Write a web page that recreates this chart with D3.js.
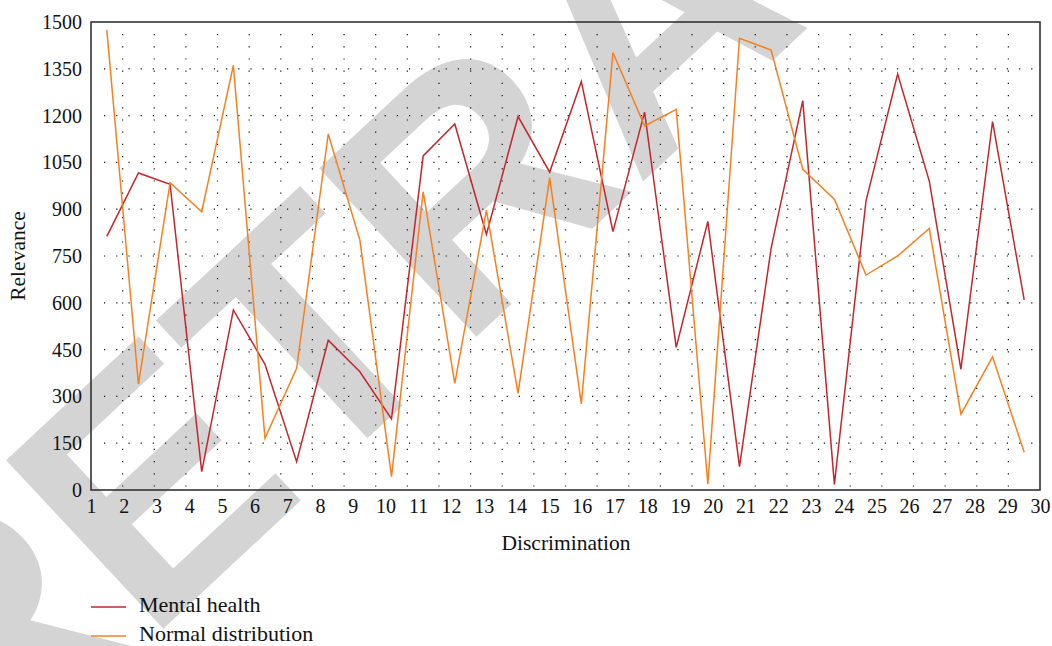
<!DOCTYPE html>
<html>
<head>
<meta charset="utf-8">
<script src="https://cdn.jsdelivr.net/npm/d3@7"></script>
<style>
  body { margin: 0; background: #fff; }
  svg { display: block; }
  .serif { font-family: "Liberation Serif", "DejaVu Serif", serif; fill: #111; }
</style>
</head>
<body>
<svg id="chart" width="1052" height="646"></svg>
<script>
// values
const samples = d3.range(1, 31);
const mentalHealth = [813, 1016, 980, 59, 577, 403, 91, 480, 379, 228, 1071, 1173, 819, 1197, 1019,
  1309, 828, 1211, 457, 861, 75, 775, 1248, 18, 927, 1333, 990, 387, 1181, 609];
const normalDist = [1474, 339, 985, 892, 1361, 166, 390, 1141, 801, 43, 956, 342, 897, 310, 1001,
  276, 1402, 1167, 1220, 19, 1448, 1410, 1028, 932, 689, 750, 838, 243, 427, 121];
const xTicks = d3.range(1, 31);
const yTicks = [0, 150, 300, 450, 600, 750, 900, 1050, 1200, 1350, 1500];
const seriesNames = ['Mental health', 'Normal distribution'];
const seriesColors = ['#c1272d', '#f48120'];

const plotLeft = 91, plotRight = 1040, plotTop = 22, plotBottom = 490;

const svg = d3.select('#chart');

// RETRACTED watermark, sits under the chart
svg.append('text')
  .attr('transform', 'translate(-30,809) rotate(-43)')
  .style('font-family', '"Liberation Sans", Arial, sans-serif')
  .style('font-weight', 'bold')
  .style('font-size', '335px')
  .style('fill', '#d4d4d4')
  .text('RETRACTED');

const xBand = d3.scaleBand().domain(samples).range([plotLeft, plotRight]);
const xAxisScale = d3.scaleLinear().domain([1, 30]).range([plotLeft, plotRight]);
const y = d3.scaleLinear().domain([0, 1500]).range([plotBottom, plotTop]);

// dotted grid
const grid = svg.append('g').attr('class', 'grid')
  .attr('stroke', '#111')
  .attr('stroke-width', 1.2)
  .attr('stroke-dasharray', '1.2,11');

grid.selectAll('.vgrid')
  .data(samples.slice(1))
  .enter()
  .append('line')
  .attr('class', 'vgrid')
  .attr('x1', (d) => xBand(d))
  .attr('x2', (d) => xBand(d))
  .attr('y1', plotTop + 12)
  .attr('y2', plotBottom);

grid.selectAll('.hgrid')
  .data(yTicks.filter((d) => d > 0 && d < 1500))
  .enter()
  .append('line')
  .attr('class', 'hgrid')
  .attr('x1', plotLeft + 13)
  .attr('x2', plotRight)
  .attr('y1', (d) => y(d))
  .attr('y2', (d) => y(d));

// frame
svg.append('rect')
  .attr('x', plotLeft)
  .attr('y', plotTop)
  .attr('width', plotRight - plotLeft)
  .attr('height', plotBottom - plotTop)
  .attr('fill', 'none')
  .attr('stroke', '#333')
  .attr('stroke-width', 1.6);

// axes
const yAxis = svg.append('g')
  .attr('transform', `translate(${plotLeft},0)`)
  .call(d3.axisLeft(y).tickValues(yTicks).tickSize(0).tickPadding(9).tickFormat(d3.format('d')));
const xAxis = svg.append('g')
  .attr('transform', `translate(0,${plotBottom})`)
  .call(d3.axisBottom(xAxisScale).tickValues(xTicks).tickSize(0).tickPadding(9).tickFormat(d3.format('d')));

[yAxis, xAxis].forEach((ax) => {
  ax.select('.domain').remove();
  ax.attr('font-family', null).attr('font-size', null);
  ax.selectAll('text')
    .attr('class', 'serif')
    .attr('fill', null)
    .style('font-size', '20px');
});

// axis titles
svg.append('text')
  .attr('class', 'serif')
  .attr('transform', 'translate(25,256) rotate(-90)')
  .attr('text-anchor', 'middle')
  .style('font-size', '21.5px')
  .text('Relevance');

svg.append('text')
  .attr('class', 'serif')
  .attr('x', 566)
  .attr('y', 550)
  .attr('text-anchor', 'middle')
  .style('font-size', '21.5px')
  .text('Discrimination');

// lines
const line = d3.line()
  .x((d, i) => xBand(samples[i]) + xBand.bandwidth() / 2)
  .y((d) => y(d));

svg.selectAll('.series')
  .data([mentalHealth, normalDist])
  .enter()
  .append('path')
  .attr('class', 'series')
  .attr('d', line)
  .attr('fill', 'none')
  .attr('stroke', (_, i) => seriesColors[i])
  .attr('stroke-width', 1.5)
  .attr('stroke-linejoin', 'miter');

// legend
const legend = svg.selectAll('.legend-item')
  .data(seriesNames)
  .enter()
  .append('g')
  .attr('class', 'legend-item')
  .attr('transform', (_, i) => `translate(91,${607 + i * 29})`);

legend.append('line')
  .attr('x1', 0)
  .attr('x2', 35)
  .attr('stroke', (_, i) => seriesColors[i])
  .attr('stroke-width', 1.5);

legend.append('text')
  .attr('class', 'serif')
  .attr('x', 48)
  .attr('y', 5)
  .style('font-size', '22px')
  .text((d) => d);
</script>
</body>
</html>
